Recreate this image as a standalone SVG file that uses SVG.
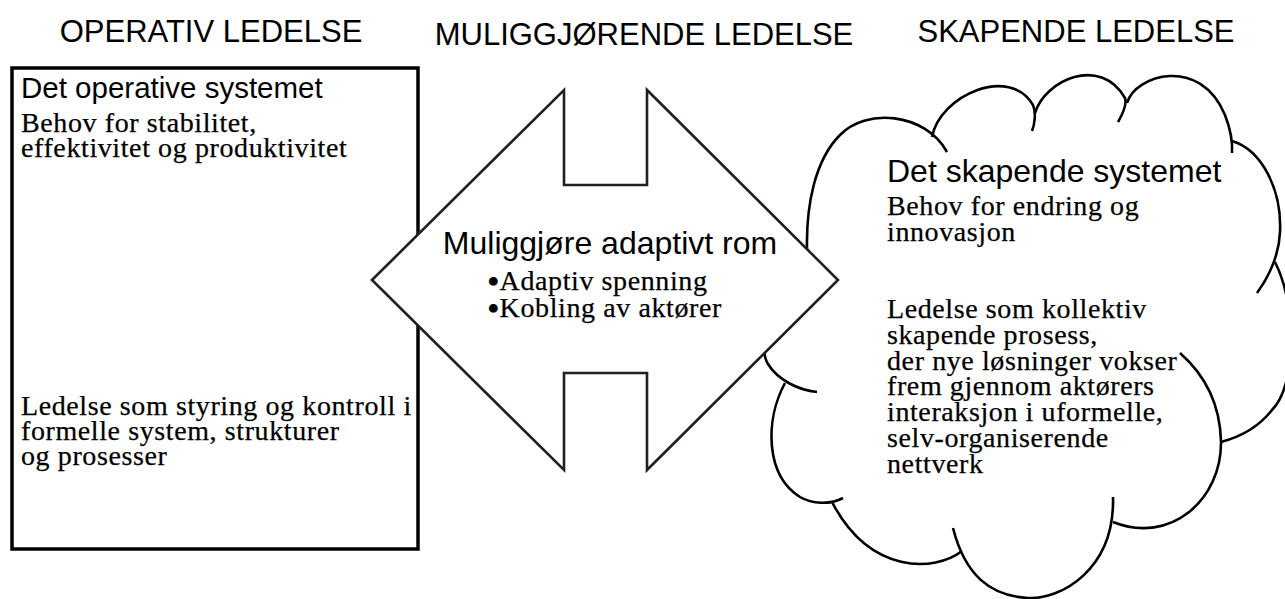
<svg xmlns="http://www.w3.org/2000/svg" width="1285" height="599" viewBox="0 0 1285 599">
<style>
.hdr{font-family:"Liberation Sans",Arial,sans-serif;font-size:31px;fill:#000;text-anchor:middle}
.ttl{font-family:"Liberation Sans",Arial,sans-serif;fill:#000}
.ser{font-family:"Liberation Serif","Times New Roman",serif;font-size:28px;letter-spacing:0.6px;fill:#000;stroke:#000;stroke-width:0.25}
.bul{font-size:36px;letter-spacing:0}
.lobe{fill:none;stroke:#000;stroke-width:2.6;stroke-linecap:butt}
</style>
<rect width="1285" height="599" fill="#fff"/>
<g id="headers">
<text class="hdr" x="211" y="42">OPERATIV LEDELSE</text>
<text class="hdr" x="644" y="45">MULIGGJØRENDE LEDELSE</text>
<text class="hdr" x="1076" y="42">SKAPENDE LEDELSE</text>
</g>
<g id="operative-system">
<rect x="12" y="68" width="406" height="481" fill="#fff" stroke="#000" stroke-width="3.5"/>
<text class="ttl" x="21" y="98" font-size="29.5">Det operative systemet</text>
<text class="ser"><tspan x="21" y="132">Behov for stabilitet,</tspan><tspan x="21" y="157">effektivitet og produktivitet</tspan></text>
<text class="ser"><tspan x="21" y="415">Ledelse som styring og kontroll i</tspan><tspan x="21" y="440">formelle system, strukturer</tspan><tspan x="21" y="465">og prosesser</tspan></text>
</g>
<g id="creative-system">
<g id="cloud">
<path class="lobe" d="M817 392 C798 390,778 380,768 364 C750 335,806 300,807 250 C806 205,815 160,840 135 C865 108,925 112,947 152"/>
<path class="lobe" d="M932 137 C940 95,1010 65,1033 105 C1036 112,1035 124,1032 131"/>
<path class="lobe" d="M1035 113 C1045 80,1100 55,1125 98 C1127 104,1122 115,1118 122"/>
<path class="lobe" d="M1127 103 C1135 75,1200 55,1225 115 C1230 128,1233 140,1232 153"/>
<path class="lobe" d="M1232 141 C1262 150,1282 190,1280 232 C1279 255,1270 275,1257 293"/>
<path class="lobe" d="M1275 262 C1297 305,1297 385,1272 410 C1258 428,1240 437,1221 442"/>
<path class="lobe" d="M1180 353 C1205 375,1220 405,1221 441 C1222 500,1170 545,1113 522"/>
<path class="lobe" d="M1113 497 C1115 570,1060 600,1028 598 C990 596,965 575,953 528"/>
<path class="lobe" d="M962 551 C935 572,870 575,832 502"/>
<path class="lobe" d="M785 383 C765 420,765 475,800 497 C812 504,830 505,843 498"/>
</g>
<text class="ttl" x="887" y="182" font-size="32">Det skapende systemet</text>
<text class="ser"><tspan x="887" y="215">Behov for endring og</tspan><tspan x="887" y="241">innovasjon</tspan></text>
<text class="ser"><tspan x="887" y="318">Ledelse som kollektiv</tspan><tspan x="887" y="344">skapende prosess,</tspan><tspan x="887" y="370">der nye løsninger vokser</tspan><tspan x="887" y="395">frem gjennom aktørers</tspan><tspan x="887" y="421">interaksjon i uformelle,</tspan><tspan x="887" y="447">selv-organiserende</tspan><tspan x="887" y="473">nettverk</tspan></text>
</g>
<g id="enabling-space">
<polygon points="372,280 564,90 564,185 647,185 647,90 838,280 647,470 647,373 564,373 564,470" fill="#fff" stroke="#231f20" stroke-width="2.6" stroke-linejoin="miter"/>
<text class="ttl" x="610" y="254" font-size="32" text-anchor="middle" fill="#231f20">Muliggjøre adaptivt rom</text>
<text class="ser" fill="#231f20" stroke="#231f20"><tspan class="bul" x="487" y="294">•</tspan><tspan y="290">Adaptiv spenning</tspan><tspan class="bul" x="487" y="321">•</tspan><tspan y="317">Kobling av aktører</tspan></text>
</g>
<g id="connectors"/>
</svg>
